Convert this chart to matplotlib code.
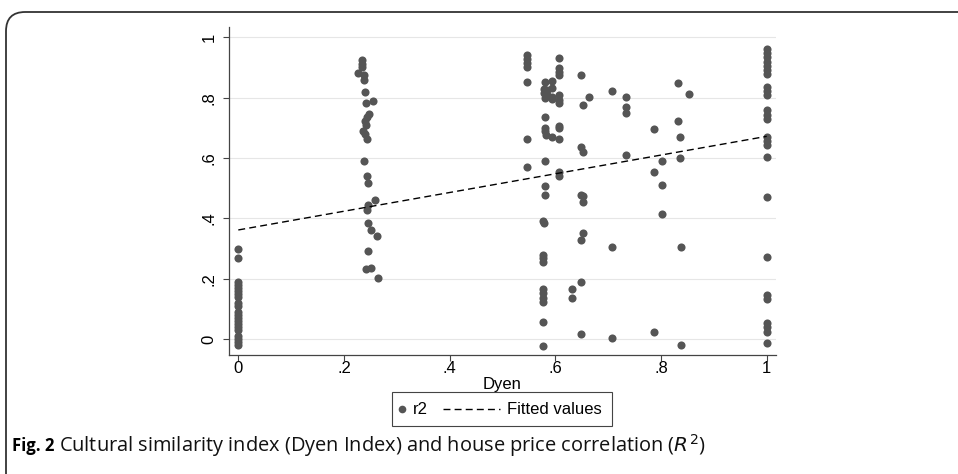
import matplotlib
matplotlib.use("Agg")
import matplotlib.pyplot as plt
from matplotlib.patches import FancyBboxPatch, Rectangle
from matplotlib.lines import Line2D

# Dyen index (x) and R^2 (y)
dyen = (
    [0.0] * 21
    + [0.235, 0.235, 0.235, 0.227, 0.237, 0.237, 0.240, 0.255, 0.242, 0.248,
       0.243, 0.240, 0.242, 0.236, 0.240, 0.243, 0.237, 0.244, 0.245, 0.259,
       0.246, 0.243, 0.246, 0.252, 0.262, 0.245, 0.242, 0.252, 0.265]
    + [0.547] * 7
    + [0.580, 0.593, 0.578, 0.585, 0.593, 0.578, 0.585, 0.593, 0.580, 0.593,
       0.580, 0.580, 0.580, 0.582, 0.593, 0.580, 0.580, 0.580,
       0.577, 0.578, 0.576, 0.576, 0.576, 0.576, 0.576, 0.576, 0.576, 0.576,
       0.576]
    + [0.607] * 12
    + [0.649, 0.663, 0.653, 0.649, 0.653, 0.653, 0.653, 0.653, 0.649, 0.649,
       0.649, 0.631, 0.631, 0.649]
    + [0.707, 0.734, 0.733, 0.733, 0.733, 0.707, 0.707]
    + [0.787, 0.832, 0.853, 0.832, 0.836, 0.801, 0.836, 0.787, 0.801, 0.801,
       0.837, 0.787, 0.837]
    + [1.0] * 25
)
r2 = (
    [0.30, 0.27, 0.19, 0.18, 0.17, 0.16, 0.15, 0.14, 0.12, 0.11, 0.09, 0.08,
     0.07, 0.06, 0.05, 0.04, 0.03, 0.01, 0.0, -0.01, -0.02]
    + [0.924, 0.913, 0.902, 0.882, 0.874, 0.858, 0.819, 0.789, 0.782, 0.747,
       0.736, 0.724, 0.708, 0.691, 0.680, 0.663, 0.591, 0.541, 0.519, 0.461,
       0.445, 0.428, 0.384, 0.362, 0.342, 0.293, 0.232, 0.235, 0.202]
    + [0.941, 0.927, 0.914, 0.903, 0.853, 0.662, 0.572]
    + [0.853, 0.855, 0.830, 0.825, 0.832, 0.814, 0.810, 0.803, 0.800, 0.795,
       0.737, 0.701, 0.688, 0.677, 0.671, 0.591, 0.508, 0.478,
       0.393, 0.386, 0.279, 0.268, 0.257, 0.166, 0.152, 0.136, 0.125, 0.058,
       -0.022]
    + [0.930, 0.897, 0.886, 0.875, 0.809, 0.792, 0.783, 0.706, 0.662, 0.555,
       0.541, 0.700]
    + [0.875, 0.803, 0.776, 0.638, 0.619, 0.475, 0.456, 0.351, 0.329, 0.191,
       0.018, 0.166, 0.136, 0.478]
    + [0.823, 0.803, 0.768, 0.750, 0.610, 0.307, 0.003]
    + [0.695, 0.850, 0.812, 0.724, 0.671, 0.591, 0.601, 0.553, 0.511, 0.414,
       0.307, 0.025, -0.019]
    + [0.960, 0.947, 0.934, 0.919, 0.906, 0.892, 0.878, 0.836, 0.823, 0.809,
       0.759, 0.743, 0.729, 0.671, 0.658, 0.643, 0.605, 0.470, 0.274, 0.147,
       0.132, 0.053, 0.040, 0.025, -0.013]
)

# fitted line end points as drawn in the figure
fit_x = [0.0, 1.0]
fit_y = [0.362, 0.672]

ticks = [0, 0.2, 0.4, 0.6, 0.8, 1]
tick_labels = ["0", ".2", ".4", ".6", ".8", "1"]

dot_color = "#555555"
W, H = 958, 474


def fx(px):
    return px / W


def fy(py):
    return 1 - py / H


fig = plt.figure(figsize=(9.58, 4.74), dpi=100)
ax = fig.add_axes([fx(229), fy(355), 547 / W, 327.7 / H])

ax.scatter(dyen, r2, s=34, color=dot_color, linewidths=0, zorder=3)
ax.plot(fit_x, fit_y, color="black", lw=1.0, dashes=(5, 3), zorder=4)

ax.set_xlim(-0.0176, 1.0176)
ax.set_ylim(-0.052, 1.033)
ax.set_xticks(ticks)
ax.set_xticklabels(tick_labels)
ax.set_yticks(ticks)
ax.set_yticklabels(tick_labels, rotation=90, va="center")
ax.grid(axis="y", color="#e6e6e6", lw=0.8)
ax.set_axisbelow(True)
for s in ["top", "right"]:
    ax.spines[s].set_visible(False)
for s in ["left", "bottom"]:
    ax.spines[s].set_color("#444444")
    ax.spines[s].set_linewidth(0.9)
ax.tick_params(direction="out", length=4, width=0.8, color="#444444",
               labelsize=12)
ax.tick_params(axis="x", pad=0.5)
ax.tick_params(axis="y", pad=5)
for lab in ax.get_xticklabels() + ax.get_yticklabels():
    lab.set_family("Liberation Sans")
ax.set_xlabel("Dyen", family="Liberation Sans", fontsize=12, labelpad=0.5)

# legend drawn by hand so the marker key stays short like the original
leg_font = {"family": "Liberation Sans", "size": 12}
fig.add_artist(Rectangle((fx(392), fy(426)), 220 / W, 34 / H,
                         transform=fig.transFigure, fill=False,
                         edgecolor="#444444", lw=0.8))
fig.add_artist(Line2D([fx(402)], [fy(409)], transform=fig.transFigure,
                      ls="none", marker="o", ms=5.5, color=dot_color, mew=0))
fig.text(fx(413), fy(409), "r2", va="center", **leg_font)
fig.add_artist(Line2D([fx(443), fx(500)], [fy(409), fy(409)],
                      transform=fig.transFigure, color="black", lw=1.0,
                      dashes=(5, 3)))
fig.text(fx(507), fy(409), "Fitted values", va="center", **leg_font)

# caption
cap = fig.text(fx(12), fy(446), "Fig. 2", family="Open Sans",
               fontweight="bold", fontsize=12, va="center")
fig.canvas.draw()
bb = cap.get_window_extent(fig.canvas.get_renderer())
fig.text(bb.x1 / fig.bbox.width + fx(5), fy(446),
         "Cultural similarity index (Dyen Index) and house price correlation ($\\mathit{R}^2$)",
         family="Open Sans", fontsize=14.4, va="center", color="#111111")

# rounded frame around the figure
frame = FancyBboxPatch((fx(6), -0.2), 1.2, 1.2 - 12 / H,
                       boxstyle="round,pad=0,rounding_size=0.02",
                       transform=fig.transFigure, fill=False,
                       edgecolor="#333333", lw=1.3, mutation_aspect=W / H)
fig.patches.append(frame)

fig.savefig("out.png", dpi=100)
